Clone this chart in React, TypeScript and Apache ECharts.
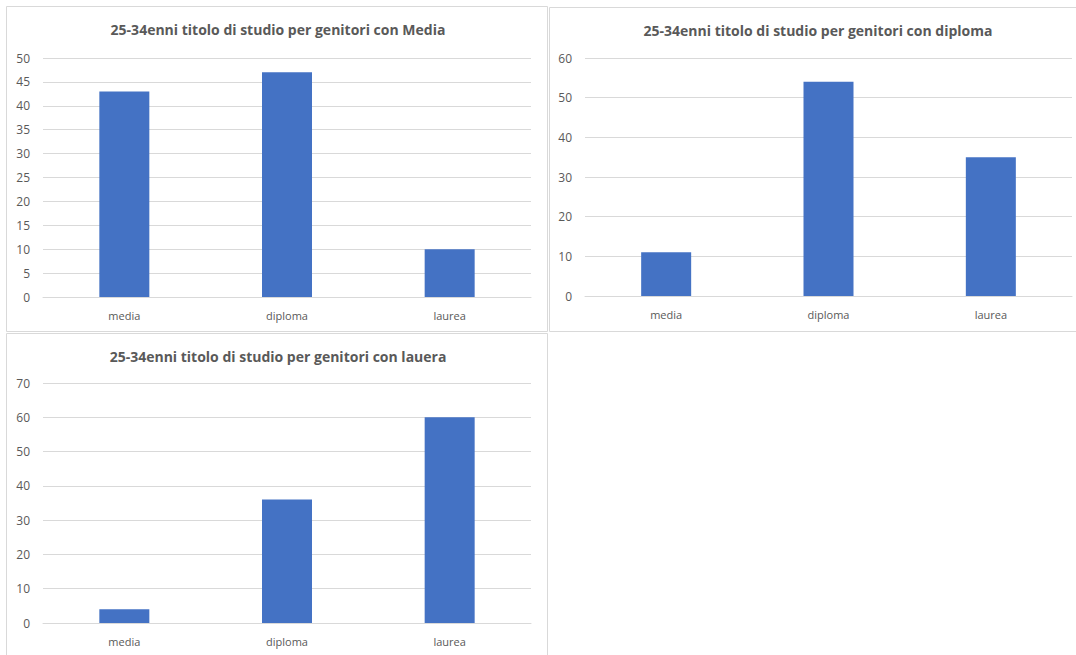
import React, { useEffect, useRef } from "react";
import * as echarts from "echarts";

const categories = ["media", "diploma", "laurea"];
const titles = [
  "25-34enni titolo di studio per genitori con Media",
  "25-34enni titolo di studio per genitori con diploma",
  "25-34enni titolo di studio per genitori con lauera",
];
const valuesMedia = [43, 47, 10];
const valuesDiploma = [11, 54, 35];
const valuesLaurea = [4, 36, 60];
const yMax = [50, 60, 70];
const yInterval = [5, 10, 10];

const FONT = "'Open Sans', 'Noto Sans', sans-serif";
const TEXT = "#595959";
const GRID = "#d9d9d9";
const BAR = "#4472C4";

export default function App() {
  const ref = useRef<HTMLDivElement>(null);
  useEffect(() => {
    document.body.style.margin = "0";
    if (!ref.current) return;
    const chart = echarts.init(ref.current, null, { renderer: "svg" });
    const grids = [
      { left: 43, top: 58, width: 488, height: 239 },
      { left: 585, top: 58, width: 487, height: 238 },
      { left: 43, top: 383, width: 488, height: 240 },
    ];
    const titlePos = [
      { x: 278, y: 29 },
      { x: 818, y: 30 },
      { x: 278, y: 356 },
    ];
    const data = [valuesMedia, valuesDiploma, valuesLaurea];
    const option: any = {
      animation: false,
      backgroundColor: "#ffffff",
      graphic: [
        { type: "rect", shape: { x: 6.5, y: 6.5, width: 541, height: 325 }, style: { fill: "none", stroke: GRID, lineWidth: 1 } },
        { type: "rect", shape: { x: 549.5, y: 7.5, width: 540, height: 324 }, style: { fill: "none", stroke: GRID, lineWidth: 1 } },
        { type: "rect", shape: { x: 6.5, y: 333.5, width: 541, height: 340 }, style: { fill: "none", stroke: GRID, lineWidth: 1 } },
        ...titles.map((t, i) => ({
          type: "text",
          x: titlePos[i].x,
          y: titlePos[i].y,
          style: {
            text: t,
            fill: TEXT,
            font: `bold 14px ${FONT}`,
            align: "center",
            verticalAlign: "middle",
          },
        })),
      ],
      grid: grids,
      xAxis: grids.map((_, i) => ({
        type: "category",
        gridIndex: i,
        data: categories,
        axisLine: { lineStyle: { color: GRID } },
        axisTick: { show: false },
        axisLabel: { color: TEXT, fontSize: 11, fontFamily: FONT, margin: 13 },
      })),
      yAxis: grids.map((_, i) => ({
        type: "value",
        gridIndex: i,
        min: 0,
        max: yMax[i],
        interval: yInterval[i],
        axisLine: { show: false },
        axisTick: { show: false },
        axisLabel: { color: TEXT, fontSize: 12, fontFamily: FONT, margin: 13 },
        splitLine: { lineStyle: { color: GRID, width: 1 } },
      })),
      series: data.map((d, i) => ({
        type: "bar",
        xAxisIndex: i,
        yAxisIndex: i,
        data: d,
        barWidth: 50,
        itemStyle: { color: BAR },
      })),
    };
    chart.setOption(option);
    return () => chart.dispose();
  }, []);
  return <div ref={ref} style={{ width: 1076, height: 655 }} />;
}
